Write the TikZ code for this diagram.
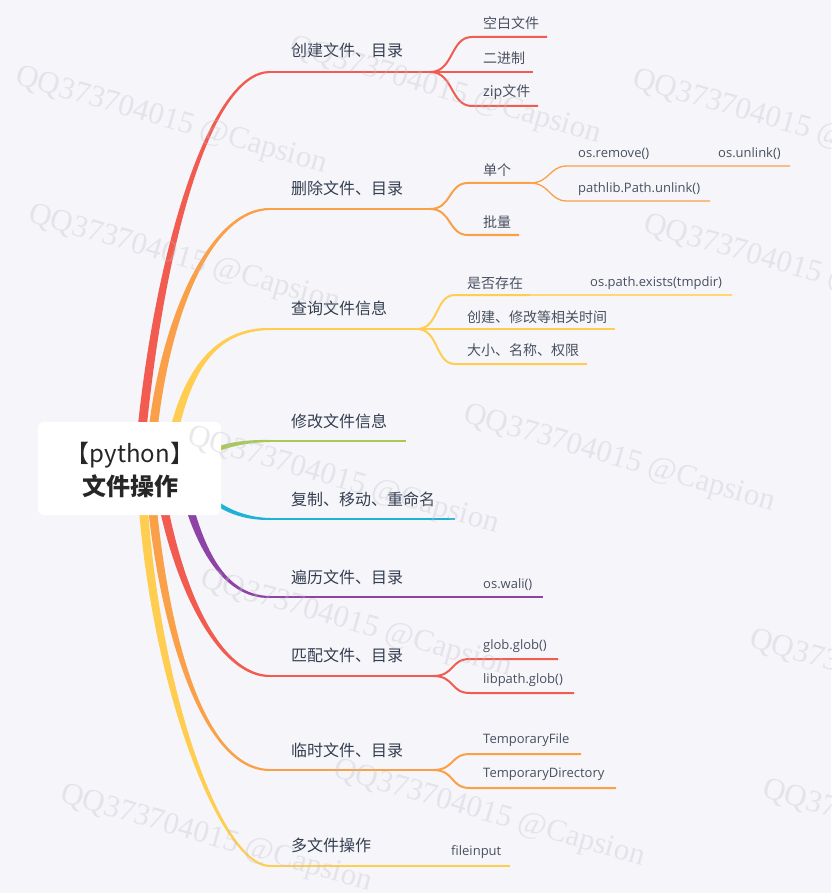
\documentclass[tikz,border=0pt]{standalone}
\usepackage{fontspec}
\setmainfont{Open Sans}
\newfontfamily\cjk{Noto Sans CJK SC}
\newfontfamily\wmfont{Liberation Serif}
\usetikzlibrary{calc}
\definecolor{bgc}{RGB}{246,246,250}
\definecolor{cred}{RGB}{241,91,80}
\definecolor{corange}{RGB}{250,160,72}
\definecolor{cyellow}{RGB}{255,205,80}
\definecolor{cgreen}{RGB}{168,200,90}
\definecolor{ccyan}{RGB}{32,178,214}
\definecolor{cpurple}{RGB}{142,68,165}
\definecolor{ltext}{RGB}{51,62,80}
\definecolor{stext}{RGB}{72,80,96}
\definecolor{roottext}{RGB}{38,38,38}
\definecolor{wmc}{RGB}{190,190,200}
% tapered main branch: colour, P0, P1, P2, P3, start offset vector, end half width, half width near end control
\newcommand{\taper}[8]{%
  \fill[#1] ($(#2)-(#6)$) .. controls ($(#3)-(#6)$) and ($(#4)+(0,-#8)$) .. ($(#5)+(0,-#7)$)
    -- ($(#5)+(0,#7)$) .. controls ($(#4)+(0,#8)$) and ($(#3)+(#6)$) .. ($(#2)+(#6)$) -- cycle;}
\begin{document}
\begin{tikzpicture}[x=1pt,y=-1pt,
  lvA/.style={anchor=west, inner sep=0pt, text=ltext, font=\cjk\fontsize{16}{18}\selectfont},
  lvB/.style={anchor=west, inner sep=0pt, text=stext, font=\cjk\fontsize{14}{16}\selectfont},
  lvL/.style={anchor=west, inner sep=0pt, text=stext, font=\fontsize{13}{15}\selectfont},
  wm/.style={anchor=west, inner sep=0pt, rotate=-16, text=wmc, opacity=0.33, font=\wmfont\fontsize{31}{31}\selectfont},
  ln/.style={line width=2pt},
  subln/.style={line width=1.3pt},
  rootbox/.style={fill=white, rounded corners=6pt, minimum width=183pt, minimum height=93pt, inner sep=0pt}
]
\fill[bgc] (0,0) rectangle (831,893);
\useasboundingbox (0,0) rectangle (831,893);

% ---------- coordinates ----------
\coordinate (b1s) at (140,450); \coordinate (b1c1) at (158,250); \coordinate (b1c2) at (210,72); \coordinate (b1e) at (270,72); \coordinate (b1k) at (430,72);
\coordinate (c11s) at (472,37); \coordinate (c11e) at (547,37);
\coordinate (c12e) at (533,72);
\coordinate (c13s) at (472,106); \coordinate (c13e) at (538,106);

\coordinate (b2s) at (151,450); \coordinate (b2c1) at (162,320); \coordinate (b2c2) at (210,209); \coordinate (b2e) at (270,209); \coordinate (b2k) at (430,209);
\coordinate (c21s) at (468,183); \coordinate (c21e) at (530,183);
\coordinate (c22s) at (468,235); \coordinate (c22e) at (519,235);
\coordinate (g1s) at (567,166); \coordinate (g1e) at (790,166);
\coordinate (g2s) at (567,201); \coordinate (g2e) at (710,201);

\coordinate (b3s) at (170,450); \coordinate (b3c1) at (185,370); \coordinate (b3c2) at (215,329); \coordinate (b3e) at (270,329); \coordinate (b3k) at (417,329);
\coordinate (c31s) at (455,295); \coordinate (c31e) at (530,295); \coordinate (c31x) at (732,295);
\coordinate (c32e) at (615,329);
\coordinate (c33s) at (455,364); \coordinate (c33e) at (587,364);

\coordinate (b4s) at (195,462); \coordinate (b4c1) at (212,447); \coordinate (b4c2) at (240,441); \coordinate (b4e) at (270,441); \coordinate (b4k) at (406,441);

\coordinate (b5s) at (200,485); \coordinate (b5c1) at (212,506); \coordinate (b5c2) at (240,519); \coordinate (b5e) at (270,519); \coordinate (b5k) at (455,519);

\coordinate (b6s) at (180,470); \coordinate (b6c1) at (195,540); \coordinate (b6c2) at (220,597); \coordinate (b6e) at (270,597); \coordinate (b6k) at (430,597); \coordinate (c61e) at (543,597);

\coordinate (b7s) at (157,470); \coordinate (b7c1) at (175,590); \coordinate (b7c2) at (220,676); \coordinate (b7e) at (270,676); \coordinate (b7k) at (433,676);
\coordinate (c71s) at (470,659); \coordinate (c71e) at (558,659);
\coordinate (c72s) at (470,693); \coordinate (c72e) at (574,693);

\coordinate (b8s) at (149,470); \coordinate (b8c1) at (160,620); \coordinate (b8c2) at (200,770); \coordinate (b8e) at (270,770); \coordinate (b8k) at (433,770);
\coordinate (c81s) at (470,754); \coordinate (c81e) at (581,754);
\coordinate (c82s) at (470,788); \coordinate (c82e) at (616,788);

\coordinate (b9s) at (141,470); \coordinate (b9c1) at (150,680); \coordinate (b9c2) at (220,866); \coordinate (b9e) at (270,866); \coordinate (b9k) at (440,866); \coordinate (c91e) at (510,866);

% ---------- main tapered branches ----------
\taper{cyellow}{b9s}{b9c1}{b9c2}{b9e}{-4.5,0}{1}{2}
\taper{corange}{b8s}{b8c1}{b8c2}{b8e}{-4.5,0}{1}{2}
\taper{cred}{b7s}{b7c1}{b7c2}{b7e}{-4.5,0}{1}{2}
\taper{cpurple}{b6s}{b6c1}{b6c2}{b6e}{-4.5,0}{1}{2}
\taper{ccyan}{b5s}{b5c1}{b5c2}{b5e}{0,3}{1}{1.6}
\taper{cgreen}{b4s}{b4c1}{b4c2}{b4e}{0,3}{1}{1.6}
\taper{cyellow}{b3s}{b3c1}{b3c2}{b3e}{4.5,0}{1}{2}
\taper{corange}{b2s}{b2c1}{b2c2}{b2e}{4.5,0}{1}{2}
\taper{cred}{b1s}{b1c1}{b1c2}{b1e}{4.5,0}{1}{2.2}

% ---------- horizontal stems and sub branches ----------
\draw[ln, cred] (b1e) -- (b1k);
\draw[ln, cred] (b1k) .. controls +(24,0) and +(-22,0) .. (c11s) -- (c11e);
\draw[ln, cred] (b1k) -- (c12e);
\draw[ln, cred] (b1k) .. controls +(24,0) and +(-22,0) .. (c13s) -- (c13e);

\draw[ln, corange] (b2e) -- (b2k);
\draw[ln, corange] (b2k) .. controls +(22,0) and +(-20,0) .. (c21s) -- (c21e);
\draw[ln, corange] (b2k) .. controls +(22,0) and +(-20,0) .. (c22s) -- (c22e);
\draw[subln, corange] (c21e) .. controls +(20,0) and +(-18,0) .. (g1s) -- (g1e);
\draw[subln, corange] (c21e) .. controls +(20,0) and +(-18,0) .. (g2s) -- (g2e);

\draw[ln, cyellow] (b3e) -- (b3k);
\draw[ln, cyellow] (b3k) .. controls +(22,0) and +(-20,0) .. (c31s) -- (c31e);
\draw[ln, cyellow!80!white] (c31e) -- (c31x);
\draw[ln, cyellow] (b3k) -- (c32e);
\draw[ln, cyellow] (b3k) .. controls +(22,0) and +(-20,0) .. (c33s) -- (c33e);

\draw[ln, cgreen] (b4e) -- (b4k);
\draw[ln, ccyan] (b5e) -- (b5k);
\draw[ln, cpurple] (b6e) -- (b6k) -- (c61e);

\draw[ln, cred] (b7e) -- (b7k);
\draw[ln, cred] (b7k) .. controls +(22,0) and +(-20,0) .. (c71s) -- (c71e);
\draw[ln, cred] (b7k) .. controls +(22,0) and +(-20,0) .. (c72s) -- (c72e);

\draw[ln, corange] (b8e) -- (b8k);
\draw[ln, corange] (b8k) .. controls +(22,0) and +(-20,0) .. (c81s) -- (c81e);
\draw[ln, corange] (b8k) .. controls +(22,0) and +(-20,0) .. (c82s) -- (c82e);

\draw[ln, cyellow] (b9e) -- (b9k) -- (c91e);

% ---------- root ----------
\node[rootbox] (root) at (129.5,468.5) {};
\node[inner sep=0pt, text=roottext, font=\cjk\fontsize{24}{26}\selectfont] (rt1) at (130,455) {【python】};
\node[inner sep=0pt, text=roottext, font=\cjk\bfseries\fontsize{24}{26}\selectfont] (rt2) at (130,486) {文件操作};

% ---------- level 1 labels ----------
\node[lvA] (t1) at (291,50) {创建文件、目录};
\node[lvA] (t2) at (291,188) {删除文件、目录};
\node[lvA] (t3) at (291,308) {查询文件信息};
\node[lvA] (t4) at (291,421) {修改文件信息};
\node[lvA] (t5) at (291,499) {复制、移动、重命名};
\node[lvA] (t6) at (291,577) {遍历文件、目录};
\node[lvA] (t7) at (291,655) {匹配文件、目录};
\node[lvA] (t8) at (291,750) {临时文件、目录};
\node[lvA] (t9) at (291,845) {多文件操作};

% ---------- level 2 / 3 labels ----------
\node[lvB] (s11) at (483,23) {空白文件};
\node[lvB] (s12) at (483,58) {二进制};
\node[lvB] (s13) at (483,92) {zip文件};
\node[lvB] (s21) at (483,170) {单个};
\node[lvB] (s22) at (483,222) {批量};
\node[lvL] (g11) at (578,154) {os.remove()};
\node[lvL] (g12) at (718,154) {os.unlink()};
\node[lvL] (g21) at (578,189) {pathlib.Path.unlink()};
\node[lvB] (s31) at (467,283) {是否存在};
\node[lvL] (s31b) at (590,283) {os.path.exists(tmpdir)};
\node[lvB] (s32) at (467,317) {创建、修改等相关时间};
\node[lvB] (s33) at (467,350) {大小、名称、权限};
\node[lvL] (s61) at (483,585) {os.wali()};
\node[lvL] (s71) at (483,646) {glob.glob()};
\node[lvL] (s72) at (483,680) {libpath.glob()};
\node[lvL] (s81) at (483,740) {TemporaryFile};
\node[lvL] (s82) at (483,774) {TemporaryDirectory};
\node[lvL] (s91) at (451,852) {fileinput};

% ---------- watermarks ----------
\node[wm] (w1) at (16,77) {QQ373704015 @Capsion};
\node[wm] (w2) at (290,47) {QQ373704015 @Capsion};
\node[wm] (w3) at (633,80) {QQ373704015 @Capsion};
\node[wm] (w4) at (29,215) {QQ373704015 @Capsion};
\node[wm] (w5) at (644,225) {QQ373704015 @Capsion};
\node[wm] (w6) at (464,415) {QQ373704015 @Capsion};
\node[wm] (w7) at (188,437) {QQ373704015 @Capsion};
\node[wm] (w8) at (201,580) {QQ373704015 @Capsion};
\node[wm] (w9) at (750,640) {QQ373704015 @Capsion};
\node[wm] (w10) at (334,770) {QQ373704015 @Capsion};
\node[wm] (w11) at (61,795) {QQ373704015 @Capsion};
\node[wm] (w12) at (763,790) {QQ373704015 @Capsion};
\end{tikzpicture}
\end{document}
